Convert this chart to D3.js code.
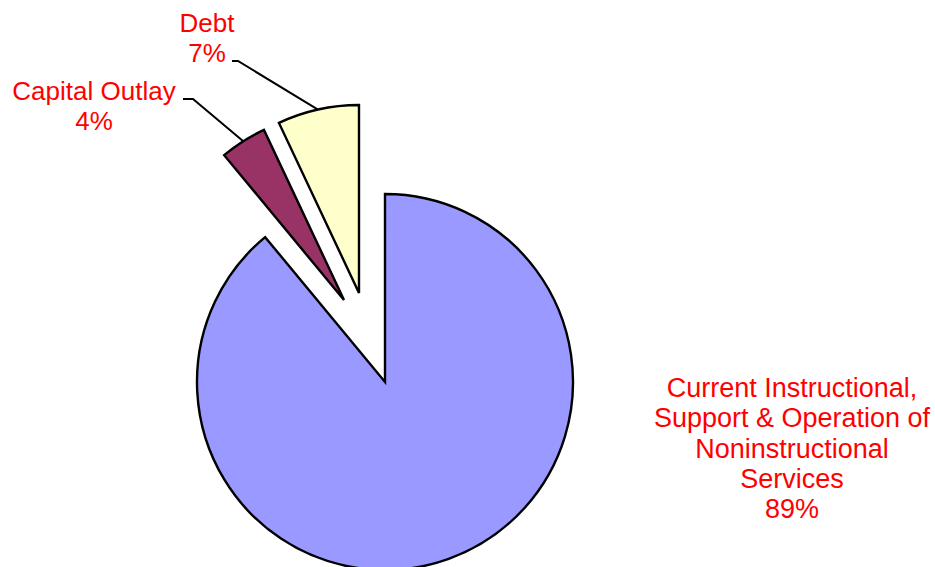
<!DOCTYPE html>
<html>
<head>
<meta charset="utf-8">
<script src="https://cdn.jsdelivr.net/npm/d3@7"></script>
<style>
  html, body { margin: 0; padding: 0; background: #fff; }
  svg { display: block; }
  .lbl { font-family: "Liberation Sans", Arial, sans-serif; font-size: 26px; fill: #ff0000; }
</style>
</head>
<body>
<div id="chart"></div>
<script>
// data
const categories = ["Current Instructional, Support & Operation of Noninstructional Services", "Capital Outlay", "Debt"];
const values = [89, 4, 7];
const labelLines = [
    ["Current Instructional,", "Support & Operation of", "Noninstructional", "Services"],
    ["Capital Outlay"],
    ["Debt"]
];
const colors = ["#9999ff", "#993366", "#ffffcc"];

const width = 935;
const height = 567;
const cx = 385, cy = 382;
const radius = 188;
const lineGap = 30.3;

// how far each slice is pulled out of the pie
const explode = [[0, 0], [-41, -82], [-26, -89]];
// label block: centre x, first baseline, font size, leader line start (null = no leader)
const labelPos = [
    { x: 792, y: 397, size: 27, leader: null },
    { x: 94, y: 100, size: 26, leader: [[183, 99], [193, 99]] },
    { x: 207, y: 32, size: 26, leader: [[232, 61], [238, 61]] }
];

const svg = d3.select("#chart")
    .append("svg")
    .attr("width", width)
    .attr("height", height);

const pie = d3.pie().sort(null).startAngle(0).endAngle(2 * Math.PI);
const arcs = pie(values);

const arc = d3.arc().innerRadius(0).outerRadius(radius);
const rimArc = d3.arc().innerRadius(radius).outerRadius(radius);

const g = svg.append("g").attr("transform", `translate(${cx},${cy})`);

g.selectAll("path.slice")
    .data(arcs)
    .enter()
    .append("path")
    .attr("class", "slice")
    .attr("transform", (d, i) => `translate(${explode[i][0]},${explode[i][1]})`)
    .attr("d", arc)
    .attr("fill", (d, i) => colors[i])
    .attr("stroke", "#000")
    .attr("stroke-width", 2.4)
    .attr("stroke-linejoin", "miter");

// leader lines to the middle of each slice's rim
arcs.forEach((d, i) => {
    const lp = labelPos[i];
    if (!lp.leader) return;
    const c = rimArc.centroid(d);
    const end = [cx + explode[i][0] + c[0], cy + explode[i][1] + c[1]];
    const pts = lp.leader.concat([end]);
    svg.append("path")
        .attr("d", d3.line()(pts))
        .attr("fill", "none")
        .attr("stroke", "#000")
        .attr("stroke-width", 2);
});

// labels
arcs.forEach((d, i) => {
    const lp = labelPos[i];
    const lines = labelLines[i].concat([values[i] + "%"]);
    const t = svg.append("text")
        .attr("class", "lbl")
        .attr("font-size", lp.size)
        .style("font-size", lp.size + "px")
        .attr("text-anchor", "middle");
    lines.forEach((s, k) => {
        t.append("tspan")
            .attr("x", lp.x)
            .attr("y", lp.y + k * lineGap)
            .text(s);
    });
});
</script>
</body>
</html>
